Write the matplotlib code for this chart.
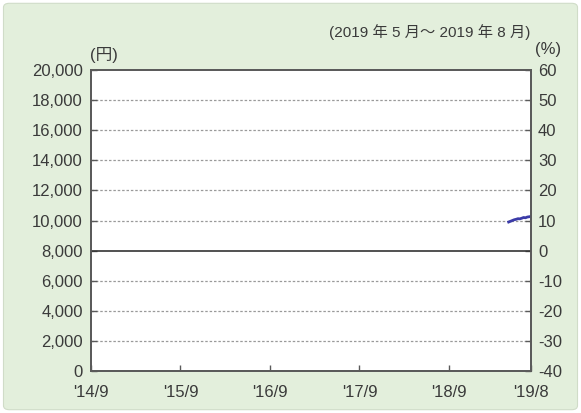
import matplotlib.pyplot as plt
from matplotlib.patches import FancyBboxPatch

plt.rcParams['font.family'] = ['Liberation Sans', 'Noto Sans CJK JP']
plt.rcParams['axes.unicode_minus'] = False

# months counted from 2014/9
tick_pos = [0, 12, 24, 36, 48, 59]
tick_labels = ["'14/9", "'15/9", "'16/9", "'17/9", "'18/9", "'19/8"]

# fund price (yen), May 2019 - Aug 2019
nav_x = [56.0, 56.25, 56.5, 56.75, 57.0, 57.25, 57.5, 57.75, 58.0, 58.25, 58.5, 58.75, 58.9]
nav_y = [9900, 9950, 10000, 10050, 10080, 10120, 10110, 10150, 10200, 10180, 10230, 10250, 10260]

left_ticks = list(range(0, 20001, 2000))
right_ticks = list(range(-40, 61, 10))

txt = '#3a3a3a'
spine_c = '#5a5a5a'

fig = plt.figure(figsize=(5.81, 4.13), dpi=100)
fig.patch.set_facecolor('white')
bg = FancyBboxPatch((0.006, 0.008), 0.988, 0.984, boxstyle='round,pad=0,rounding_size=0.01',
                    transform=fig.transFigure, facecolor='#e3efdc', edgecolor='#d0dcc8',
                    lw=0.8, zorder=-10)
fig.patches.append(bg)

ax = fig.add_axes([0.1566, 0.1017, 0.7574, 0.7288])
ax.set_facecolor('white')
ax.set_xlim(0, 59)
ax.set_ylim(0, 20000)
ax.set_yticks(left_ticks)
ax.set_yticklabels([f'{v:,}' for v in left_ticks])
ax.set_xticks(tick_pos)
ax.set_xticklabels(tick_labels)

for v in left_ticks[1:-1]:
    if v != 8000:
        ax.axhline(v, color='#9a9a9a', lw=0.9, ls=(0, (2, 1.5)), zorder=1)

ax2 = ax.twinx()
ax2.set_ylim(-40, 60)
ax2.set_yticks(right_ticks)
ax2.set_yticklabels([str(v) for v in right_ticks])
ax2.axhline(0, color='#333333', lw=1.2, zorder=2)

ax.plot(nav_x, nav_y, color='#3b3ba8', lw=2.0, zorder=3)

for a in (ax, ax2):
    for s in a.spines.values():
        s.set_color(spine_c)
        s.set_linewidth(1.3)
    a.tick_params(direction='in', length=4, width=1, color=spine_c,
                  labelsize=12, labelcolor=txt)
ax.tick_params(axis='y', pad=6)
ax.tick_params(axis='x', pad=10)
ax2.tick_params(axis='y', pad=5)

fig.text(0.155, 0.866, '(円)', fontsize=12, color=txt, ha='left', va='center')
fig.text(0.92, 0.879, '(%)', fontsize=12, color=txt, ha='left', va='center')
fig.text(0.913, 0.922, '(2019 年 5 月～ 2019 年 8 月)', fontsize=11, color=txt,
         ha='right', va='center')

fig.savefig('out.png', dpi=100, facecolor='white')
